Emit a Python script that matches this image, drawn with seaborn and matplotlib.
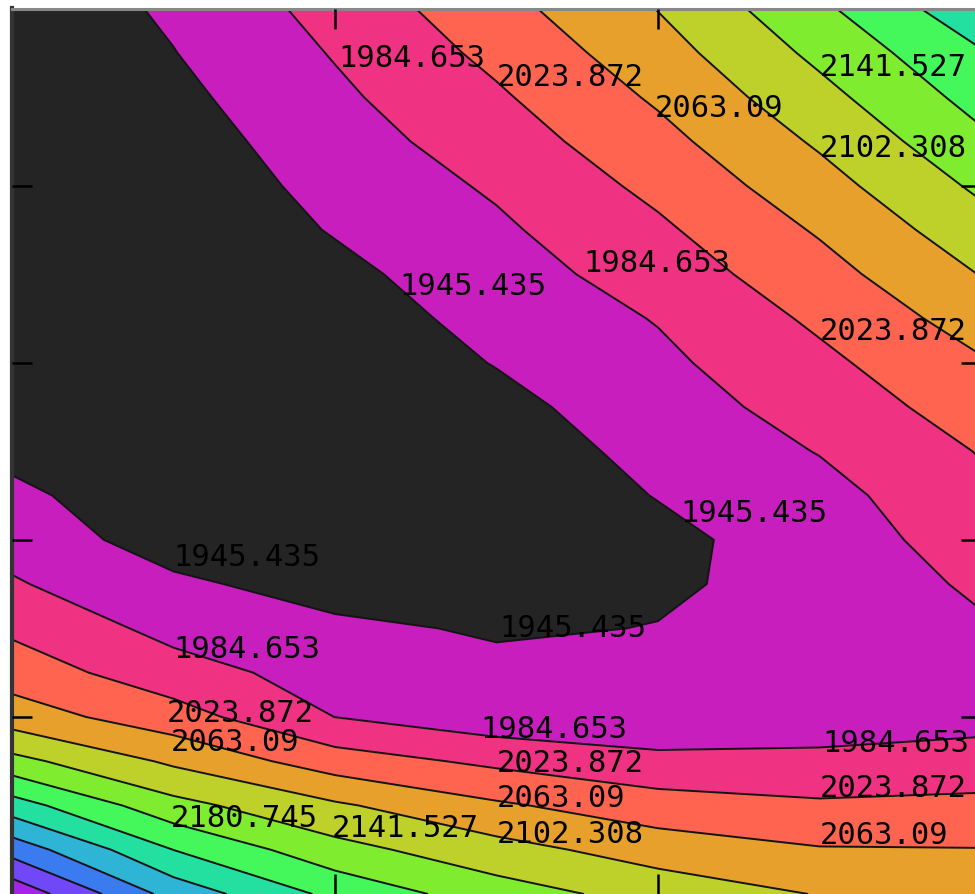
import numpy as np
import seaborn as sns
import matplotlib.pyplot as plt

# contour levels shown in the chart
levels = [1945.435, 1984.653, 2023.872, 2063.09, 2102.308, 2141.527, 2180.745,
          2219.963, 2259.182, 2298.4, 2337.618, 2376.837, 2416.055]
floor_level = 1890.0

band_colors = ["#242424", "#c81ebe", "#f03282", "#ff6450", "#e8a02c", "#bed02a",
               "#80ec30", "#44f85c", "#24e0a0", "#2eb4d4", "#3a7cf0", "#7048f8", "#a424e8"]

# grid: x = 0 .. 3 step 0.5, y = 0 .. 5 step 0.25 (values listed bottom to top)
x_nodes = [0.0, 0.5, 1.0, 1.5, 2.0, 2.5, 3.0]
y_nodes = [0.0, 0.25, 0.5, 0.75, 1.0, 1.25, 1.5, 1.75, 2.0, 2.25, 2.5,
           2.75, 3.0, 3.25, 3.5, 3.75, 4.0, 4.25, 4.5, 4.75, 5.0]

z_x00 = [2406.0, 2322.2, 2237.7, 2153.8, 2082.1, 2045.3, 2016.6, 1988.6, 1969.7, 1952.4, 1937.2,
         1924.2, 1915.3, 1912.1, 1912.4, 1912.4, 1912.4, 1912.4, 1912.4, 1914.0, 1916.0]
z_x05 = [2283.5, 2219.6, 2154.3, 2095.1, 2040.5, 2000.1, 1972.7, 1952.8, 1927.0, 1924.4, 1916.6,
         1912.4, 1912.4, 1912.4, 1914.5, 1916.2, 1920.2, 1927.0, 1935.6, 1944.4, 1952.0]
z_x10 = [2209.6, 2155.1, 2108.0, 2042.5, 1984.3, 1968.8, 1953.3, 1929.0, 1925.7, 1917.6, 1912.9,
         1913.3, 1919.1, 1926.5, 1935.8, 1948.0, 1957.8, 1967.5, 1977.3, 1987.3, 1998.4]
z_x15 = [2159.5, 2116.7, 2068.8, 2015.3, 1959.4, 1955.0, 1941.0, 1927.6, 1917.9, 1917.6, 1924.4,
         1934.5, 1947.1, 1957.4, 1967.7, 1978.1, 1989.9, 2004.2, 2018.5, 2033.7, 2049.3]
z_x20 = [2126.3, 2084.4, 2040.5, 1996.0, 1951.0, 1949.0, 1946.5, 1940.0, 1935.1, 1947.0, 1956.8,
         1966.5, 1976.3, 1986.8, 2002.1, 2017.2, 2033.7, 2051.0, 2068.5, 2086.0, 2103.6]
z_x25 = [2100.5, 2065.8, 2029.3, 1994.8, 1962.0, 1955.0, 1954.0, 1958.0, 1965.0, 1972.0, 1986.2,
         2000.6, 2015.1, 2030.9, 2048.7, 2067.1, 2087.3, 2107.7, 2129.2, 2150.8, 2172.9]
z_x30 = [2097.8, 2064.4, 2032.8, 2001.6, 1970.7, 1971.0, 1979.8, 1991.3, 2002.6, 2014.0, 2026.0,
         2042.7, 2059.3, 2080.8, 2103.6, 2126.1, 2149.0, 2172.8, 2195.2, 2216.9, 2248.0]

# contour labels: (x, y, index into levels)
label_x = [1.01, 1.50, 1.99, 2.50, 2.50, 1.20, 1.77, 2.50, 2.07, 0.50, 1.51, 0.50,
           0.48, 0.49, 1.45, 1.50, 1.50, 1.50, 0.99, 0.49, 2.51, 2.50, 2.50]
label_y = [4.67, 4.56, 4.39, 4.62, 4.16, 3.38, 3.51, 3.13, 2.10, 1.85, 1.45, 1.33,
           0.97, 0.81, 0.88, 0.69, 0.49, 0.29, 0.32, 0.38, 0.80, 0.55, 0.28]
label_lvl = [1, 2, 3, 5, 4, 0, 1, 2, 0, 0, 0, 1,
             2, 3, 1, 2, 3, 4, 5, 6, 1, 2, 3]

sns.set_style("white")
plt.rcParams["font.family"] = ["DejaVu Sans Mono", "DejaVu Sans"]

Z = np.column_stack([z_x00, z_x05, z_x10, z_x15, z_x20, z_x25, z_x30])
X, Y = np.meshgrid(x_nodes, y_nodes)

fig = plt.figure(figsize=(9.75, 8.94), dpi=100)
ax = fig.add_axes([12 / 975, 0, 969 / 975, 885.5 / 894])

palette = sns.color_palette(band_colors)
ax.contourf(X, Y, Z, levels=[floor_level] + levels, colors=palette)
ax.contour(X, Y, Z, levels=levels, colors="#141414", linewidths=1.4)

for lx, ly, li in zip(label_x, label_y, label_lvl):
    txt = f"{levels[li]:.3f}".rstrip("0")
    ax.text(lx, ly, txt, fontsize=22, ha="left", va="baseline", color="black")

ax.set_xlim(0, 3)
ax.set_ylim(0, 5)
ax.set_xticks([1, 2])
ax.set_yticks([1, 2, 3, 4])
ax.set_axisbelow(False)
ax.tick_params(direction="in", length=14.4, width=1.8, color="black",
               top=True, right=True, bottom=True, left=True,
               labelbottom=False, labelleft=False)

ax.spines["top"].set_color("#888888")
ax.spines["top"].set_linewidth(2.2)
ax.spines["left"].set_color("#333333")
ax.spines["left"].set_linewidth(3)
ax.spines["right"].set_visible(False)
ax.spines["bottom"].set_visible(False)

fig.savefig("out.png", dpi=100, facecolor="white")
